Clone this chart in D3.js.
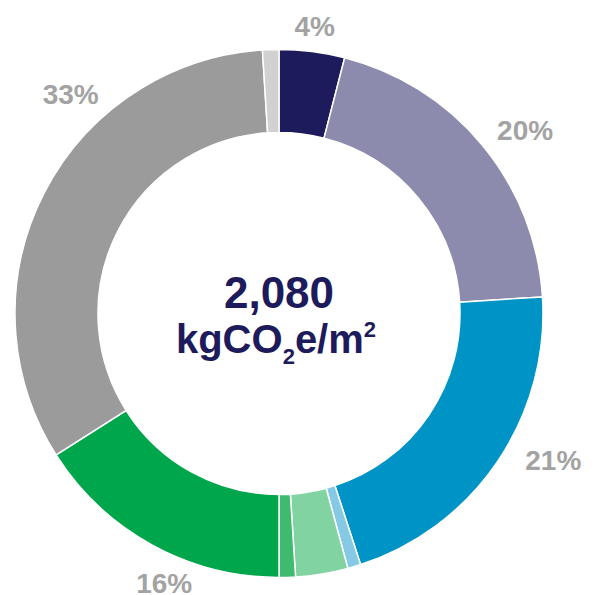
<!DOCTYPE html>
<html>
<head>
<meta charset="UTF-8">
<script src="https://d3js.org/d3.v7.min.js"></script>
<style>
  body { margin: 0; background: #fff; }
  svg { display: block; font-family: "Liberation Sans", Arial, sans-serif; }
</style>
</head>
<body>
<svg></svg>
<script>
// segment shares (percent), clockwise from 12 o'clock
var shares  = [4, 20, 21, 0.8, 3.2, 1, 16, 33, 1];
var colors  = ["#1d1b5b", "#8c8bad", "#0093c6", "#86c9e4", "#82d3a2", "#3fbb70", "#00a64b", "#9b9b9b", "#d1d1d1"];
var labels  = ["4%", "20%", "21%", "", "", "", "16%", "33%", ""];
// where along the ring each label sits (percent of the full turn)
var labelAt = [1.97, 14.8, 32.8, 0, 0, 0, 56.4, 87.9, 0];
var total = "2,080";

var width = 594, height = 595,
    cx = 279, cy = 313.5,
    outerR = 264, innerR = 181, labelGap = 25;

var svg = d3.select("svg")
    .attr("width", width)
    .attr("height", height);

var g = svg.append("g")
    .attr("transform", "translate(" + cx + "," + cy + ")");

var pie = d3.pie().sort(null).value(function(d) { return d; });
var arc = d3.arc().innerRadius(innerR).outerRadius(outerR);
var turn = d3.scaleLinear().domain([0, 100]).range([0, 2 * Math.PI]);

g.selectAll("path.seg")
  .data(pie(shares))
  .enter().append("path")
    .attr("class", "seg")
    .attr("d", arc)
    .attr("fill", function(d, i) { return colors[i]; })
    .attr("stroke", "#fff")
    .attr("stroke-width", 1.5);

// percentage labels, pushed further out on the sides where the text is wide
var lab = g.selectAll("text.lab")
  .data(labels.map(function(t, i) { return {t: t, a: turn(labelAt[i])}; })
              .filter(function(d) { return d.t; }))
  .enter().append("text")
    .attr("class", "lab")
    .attr("text-anchor", "middle")
    .attr("font-size", 28)
    .attr("font-weight", "bold")
    .attr("fill", "#a3a3a3")
    .text(function(d) { return d.t; });

lab.each(function(d) {
  var bb = this.getBBox();
  var s = Math.sin(d.a), c = Math.cos(d.a);
  var r = outerR + labelGap + (bb.width / 2) * s * s;
  d3.select(this)
    .attr("x", r * s)
    .attr("y", -r * c + 10);
});

// centre text
g.append("text")
    .attr("text-anchor", "middle")
    .attr("x", 0)
    .attr("y", -6)
    .attr("font-size", 44)
    .attr("font-weight", "bold")
    .attr("fill", "#1d1b5b")
    .text(total);

var unit = g.append("text")
    .attr("text-anchor", "middle")
    .attr("x", -3)
    .attr("y", 39)
    .attr("font-size", 40)
    .attr("font-weight", "bold")
    .attr("fill", "#1d1b5b");
unit.append("tspan").text("kgCO");
unit.append("tspan").attr("font-size", 22).attr("dy", 11).text("2");
unit.append("tspan").attr("dy", -11).text("e/m");
unit.append("tspan").attr("font-size", 22).attr("dy", -16).text("2");
</script>
</body>
</html>
